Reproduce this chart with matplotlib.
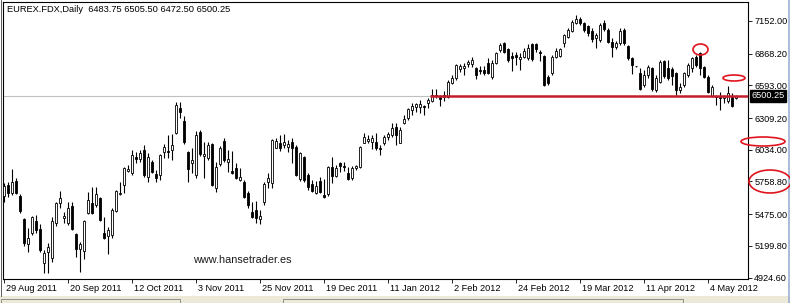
import matplotlib
matplotlib.use("Agg")
import matplotlib.pyplot as plt
import numpy as np
from matplotlib.lines import Line2D
from matplotlib.patches import Ellipse, Rectangle

plt.rcParams["font.family"] = ["Liberation Sans", "DejaVu Sans"]

W, H = 790, 303

# daily candles, 29 Aug 2011 .. mid May 2012
opens = [
    5632, 5728, 5658, 5762, 5632, 5432, 5216, 5311, 5415, 5346,
    5051, 5146, 5094, 5398, 5572, 5441, 5398, 5545, 5302, 5172,
    5155, 5485, 5572, 5554, 5615, 5311, 5285, 5294, 5502, 5650,
    5728, 5849, 5832, 5971, 5953, 6032, 5797, 5927, 5823, 5815,
    6014, 6023, 6032, 6179, 6396, 6283, 6014, 5919, 5815, 6188,
    5979, 5962, 6084, 5702, 5910, 6110, 5927, 5849, 5875, 5771,
    5754, 5658, 5493, 5511, 5433, 5580, 5754, 5745, 6049, 6092,
    6075, 6058, 6101, 6058, 5780, 5971, 5815, 5736, 5658, 5762,
    5641, 5650, 5884, 5806, 5919, 5893, 5832, 5789, 5875, 5884,
    6092, 6110, 6101, 6101, 6049, 6092, 6144, 6162, 6231, 6092,
    6266, 6309, 6379, 6405, 6405, 6413, 6440, 6457, 6509, 6492,
    6492, 6492, 6613, 6657, 6735, 6743, 6778, 6778, 6743, 6726,
    6726, 6787, 6665, 6787, 6900, 6960, 6908, 6847, 6856, 6821,
    6839, 6830, 6952, 6952, 6882, 6847, 6665, 6700, 6839, 6847,
    6960, 7012, 7064, 7134, 7169, 7134, 7108, 7064, 7004, 6986,
    7134, 7073, 6969, 6926, 6960, 7073, 6934, 6830, 6761, 6700,
    6596, 6683, 6743, 6552, 6622, 6804, 6743, 6735, 6700, 6552,
    6596, 6683, 6743, 6839, 6874, 6752, 6665, 6500, 6500, 6492,
    6483, 6457, 6492, 6483.75,
]
highs = [
    5745, 5754, 5867, 5788, 5650, 5441, 5354, 5459, 5467, 5389,
    5164, 5224, 5450, 5580, 5676, 5493, 5580, 5580, 5311, 5233,
    5424, 5667, 5710, 5710, 5624, 5450, 5363, 5528, 5684, 5754,
    5884, 5901, 6032, 6014, 6032, 6075, 6006, 5945, 5858, 5997,
    6084, 6162, 6170, 6448, 6448, 6327, 6020, 6049, 6196, 6205,
    6101, 6101, 6092, 5927, 6066, 6136, 6032, 6023, 5919, 5875,
    5771, 5676, 5580, 5589, 5511, 5754, 5832, 6127, 6136, 6162,
    6170, 6118, 6136, 6075, 6014, 5979, 5832, 5771, 5762, 5797,
    5780, 5890, 5971, 5901, 5927, 5927, 5884, 5893, 5901, 6066,
    6179, 6162, 6162, 6179, 6075, 6162, 6188, 6266, 6266, 6231,
    6335, 6396, 6440, 6440, 6466, 6422, 6483, 6561, 6561, 6509,
    6544, 6639, 6683, 6778, 6778, 6787, 6813, 6839, 6752, 6761,
    6761, 6830, 6813, 6882, 6960, 6969, 6917, 6882, 6882, 6874,
    6917, 6952, 6960, 6960, 6900, 6856, 6683, 6856, 6917, 6917,
    7038, 7091, 7160, 7203, 7186, 7143, 7117, 7091, 7047, 7134,
    7160, 7091, 7004, 6978, 7091, 7091, 6943, 6839, 6761, 6743,
    6726, 6769, 6752, 6683, 6813, 6813, 6813, 6752, 6709, 6613,
    6709, 6787, 6839, 6856, 6882, 6757, 6683, 6596, 6509, 6535,
    6509, 6587, 6526, 6505.5,
]
lows = [
    5580, 5624, 5641, 5650, 5485, 5198, 5146, 5294, 5311, 5146,
    4964, 4964, 5059, 5372, 5528, 5398, 5381, 5337, 5103, 4973,
    5085, 5476, 5480, 5537, 5415, 5259, 5129, 5268, 5493, 5641,
    5658, 5841, 5815, 5919, 5927, 5797, 5754, 5832, 5754, 5771,
    5962, 5962, 5945, 6170, 6309, 6084, 5754, 5832, 5789, 5979,
    5789, 5945, 5719, 5667, 5893, 5927, 5841, 5823, 5780, 5762,
    5615, 5528, 5441, 5398, 5389, 5554, 5702, 5702, 6045, 6023,
    6049, 6014, 5919, 5806, 5762, 5754, 5684, 5667, 5650, 5658,
    5615, 5632, 5745, 5797, 5841, 5849, 5771, 5771, 5858, 5875,
    6088, 6092, 6040, 6032, 5988, 6075, 6118, 6144, 6075, 6088,
    6260, 6292, 6335, 6361, 6353, 6335, 6396, 6448, 6483, 6413,
    6457, 6483, 6604, 6639, 6709, 6683, 6752, 6752, 6648, 6691,
    6683, 6695, 6648, 6780, 6882, 6874, 6795, 6717, 6769, 6726,
    6830, 6813, 6804, 6882, 6804, 6587, 6596, 6683, 6830, 6839,
    6926, 7004, 7056, 7125, 7117, 7056, 7021, 6969, 6917, 6969,
    7064, 6960, 6839, 6908, 6943, 6943, 6813, 6691, 6752, 6552,
    6578, 6657, 6544, 6535, 6613, 6657, 6639, 6596, 6509, 6526,
    6578, 6665, 6709, 6752, 6683, 6657, 6526, 6492, 6422, 6379,
    6440, 6440, 6405, 6472.5,
]
closes = [
    5719, 5658, 5754, 5658, 5502, 5224, 5268, 5450, 5337, 5164,
    5137, 5190, 5415, 5572, 5615, 5459, 5528, 5346, 5172, 5216,
    5415, 5598, 5485, 5650, 5424, 5268, 5337, 5511, 5676, 5658,
    5875, 5867, 5988, 5953, 6006, 5815, 5971, 5841, 5789, 5988,
    6058, 6014, 6075, 6422, 6361, 6101, 5867, 5945, 6162, 5997,
    5997, 6075, 5728, 5884, 6049, 5945, 5953, 5832, 5789, 5797,
    5624, 5554, 5450, 5441, 5459, 5736, 5789, 6118, 6110, 6049,
    6101, 6084, 6049, 5815, 6006, 5771, 5710, 5676, 5719, 5667,
    5624, 5884, 5806, 5875, 5893, 5884, 5780, 5875, 5893, 6058,
    6144, 6127, 6136, 6049, 6040, 6144, 6170, 6222, 6162, 6205,
    6301, 6387, 6413, 6431, 6431, 6405, 6466, 6509, 6500, 6474,
    6509, 6622, 6657, 6769, 6761, 6761, 6795, 6813, 6683, 6717,
    6700, 6700, 6787, 6874, 6943, 6882, 6813, 6830, 6839, 6839,
    6891, 6917, 6821, 6908, 6874, 6596, 6613, 6839, 6891, 6908,
    7030, 7073, 7143, 7169, 7134, 7073, 7047, 6995, 7030, 7117,
    7082, 6969, 6926, 6960, 7064, 6960, 6830, 6769, 6757, 6561,
    6683, 6752, 6561, 6657, 6795, 6674, 6657, 6674, 6552, 6578,
    6700, 6769, 6830, 6769, 6743, 6665, 6535, 6578, 6492, 6483,
    6500, 6526, 6413, 6500.25,
]

date_labels = [
    "29 Aug 2011", "20 Sep 2011", "12 Oct 2011", "3 Nov 2011",
    "25 Nov 2011", "19 Dec 2011", "11 Jan 2012", "2 Feb 2012",
    "24 Feb 2012", "19 Mar 2012", "11 Apr 2012", "4 May 2012",
]
label_step = 16
price_ticks = [7152.00, 6868.20, 6593.00, 6309.20, 6034.00,
               5758.80, 5475.00, 5199.80, 4924.60]
last_price = 6500.25
support_level = 6500.25
support_start_bar = 106.5
header = "EUREX.FDX,Daily  6483.75 6505.50 6472.50 6500.25"

fig = plt.figure(figsize=(W / 100, H / 100), dpi=100)
fig.patch.set_facecolor("white")
ax = fig.add_axes([3 / W, 24 / H, 745 / W, 277 / H])

o = np.array(opens, dtype=float)
hi = np.array(highs, dtype=float)
lo = np.array(lows, dtype=float)
c = np.array(closes, dtype=float)
x = np.arange(len(o))
up = c >= o

ax.vlines(x, lo, hi, color="black", lw=0.8, zorder=2)
ax.bar(x[up], (c - o)[up], bottom=o[up], width=0.6, facecolor="white",
       edgecolor="black", lw=0.6, zorder=3)
ax.bar(x[~up], (o - c)[~up], bottom=c[~up], width=0.6, facecolor="black",
       edgecolor="black", lw=0.6, zorder=3)

# current price line + drawn support line
ax.axhline(last_price, color="#C0C0C0", lw=0.8, zorder=1)
ax.hlines(support_level, support_start_bar, len(o) + 5, color="#C41E2E",
          lw=1.8, zorder=4)

ax.set_xlim(-0.25, 186.0)
ax.set_ylim(4911.8, 7316.1)

for sp in ax.spines.values():
    sp.set_color("black")
    sp.set_linewidth(0.8)

ax.yaxis.tick_right()
ax.set_yticks(price_ticks)
ax.set_yticklabels([f"{v:.2f}" for v in price_ticks])
ax.tick_params(axis="y", direction="out", length=3, width=0.6, pad=1.5,
               labelsize=6.6, colors="black")

tick_bars = np.arange(len(date_labels)) * label_step
ax.set_xticks(tick_bars)
ax.set_xticklabels([])
ax.tick_params(axis="x", direction="out", length=3, width=0.6)
for b, lab in zip(tick_bars, date_labels):
    ax.text(b + 0.45, -0.036, lab, transform=ax.get_xaxis_transform(),
            ha="left", va="center", fontsize=6.6, color="black")

# black box with the last price on the axis
ax.text(1 + 3.5 / 745, last_price, f"{last_price:.2f}", transform=ax.get_yaxis_transform(),
        ha="left", va="center", fontsize=6.6, color="white", zorder=6,
        bbox=dict(boxstyle="square,pad=0.12", fc="black", ec="black"))

fig.text(7 / W, 1 - 9.5 / H, header, ha="left", va="center", fontsize=6.7,
         color="black")

fig.text(242 / W, 1 - 260 / H, "www.hansetrader.es", ha="center", va="center",
         fontsize=7.8, color="#1A1A1A")

# hand drawn red marks
marks = [(700.5, 49.5, 15, 11), (734, 78, 22, 6), (763, 141.5, 44, 9), (770, 181.5, 42, 23)]
for cx, cy, w, h in marks:
    fig.add_artist(Ellipse((cx / W, 1 - cy / H), w / W, h / H, transform=fig.transFigure,
                           fill=False, ec="#E0141E", lw=1.2, zorder=10))

# bottom tab strip and window edge
fig.add_artist(Rectangle((0, 0), 1, 7 / H, transform=fig.transFigure,
                         fc="#ECE9D8", ec="none", zorder=0))
fig.add_artist(Rectangle((1 / W, 0), 179 / W, 4 / H, transform=fig.transFigure,
                         fc="#ECE9D8", ec="#808080", lw=0.6, zorder=1))
fig.add_artist(Rectangle((283 / W, 0), 400 / W, 4 / H, transform=fig.transFigure,
                         fc="#ECE9D8", ec="#808080", lw=0.6, zorder=1))
fig.add_artist(Line2D([1 / W, 1 / W], [7 / H, 1], transform=fig.transFigure,
                      color="#404040", lw=0.6))
fig.add_artist(Line2D([788.5 / W, 788.5 / W], [0, 1], transform=fig.transFigure,
                      color="#9DB0D0", lw=1.2))

fig.savefig("out.png", dpi=100, facecolor=fig.get_facecolor())
plt.close(fig)
